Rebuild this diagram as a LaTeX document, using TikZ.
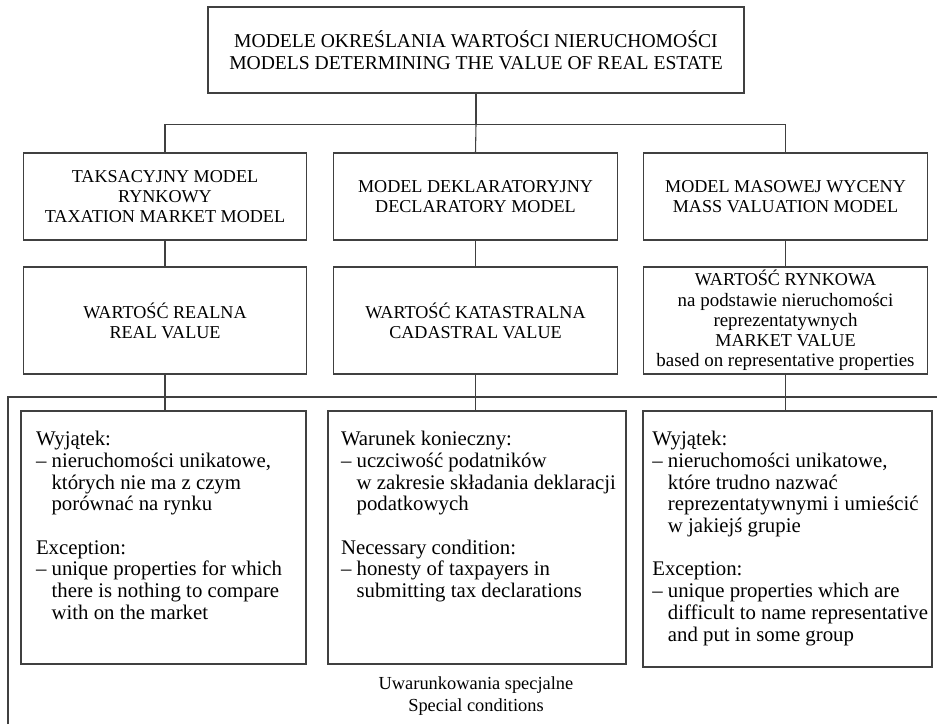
\documentclass[tikz,border=0pt]{standalone}
\usepackage{fontspec}
\setmainfont{Liberation Serif}
\usetikzlibrary{positioning}
\newcommand{\topsz}{\fontsize{14.7}{16.5}\selectfont}
\newcommand{\capsz}{\fontsize{13.6}{15.2}\selectfont}
\newcommand{\smsz}{\fontsize{14.2}{15.6}\selectfont}
\newcommand{\bodysz}{\fontsize{15.6}{16.3}\selectfont}
\newcommand{\ind}{\hphantom{\textendash\ }}
\newcommand{\condtext}[3]{\parbox[c][#2][t]{#1}{\bodysz\begin{tabular}[t]{@{}l@{}}#3\end{tabular}}}

\begin{document}
\begin{tikzpicture}[
		x=0.75pt, y=-0.75pt,
		line width=0.8pt, draw=black!75,
		modbox/.style={draw=black!75, align=center, font=\capsz, minimum width=212.5pt, minimum height=65.25pt, inner sep=2pt},
		valbox/.style={modbox, minimum height=80.25pt},
		condbox/.style={draw=black!75, inner ysep=14.5pt},
	]
	\useasboundingbox (0,0) rectangle (937,724);
	\node[modbox, font=\topsz, minimum width=402pt, minimum height=64.5pt] (m) at (476, 50) {MODELE OKREŚLANIA WARTOŚCI NIERUCHOMOŚCI\\MODELS DETERMINING THE VALUE OF REAL ESTATE};

	\node[modbox] (a) at (165, 196.5) {TAKSACYJNY MODEL\\RYNKOWY\\TAXATION MARKET MODEL};
	\node[modbox] (b) at (475.5, 196.5) {MODEL DEKLARATORYJNY\\DECLARATORY MODEL};
	\node[modbox] (c) at (785.5, 196.5) {MODEL MASOWEJ WYCENY\\MASS VALUATION MODEL};

	\node[valbox] (ra) at (165, 320.5) {WARTOŚĆ REALNA\\REAL VALUE};
	\node[valbox] (rb) at (475.5, 320.5) {WARTOŚĆ KATASTRALNA\\CADASTRAL VALUE};
	\node[valbox] (rc) at (785.5, 320.5) {WARTOŚĆ RYNKOWA\\{\smsz na podstawie nieruchomości}\\{\smsz reprezentatywnych}\\MARKET VALUE\\{\smsz based on representative properties}};

	\node[condbox, inner xsep=11.25pt] (ea) at (163.5, 537.5) {\condtext{191.25pt}{160.75pt}{%
		Wyjątek:\\
		\textendash\ nieruchomości unikatowe,\\
		\ind których nie ma z czym\\
		\ind porównać na rynku\\[16.3pt]
		Exception:\\
		\textendash\ unique properties for which\\
		\ind there is nothing to compare\\
		\ind with on the market}};
	\node[condbox, inner xsep=9.75pt] (eb) at (477, 537.5) {\condtext{204pt}{160.75pt}{%
		Warunek konieczny:\\
		\textendash\ uczciwość podatników\\
		\ind w zakresie składania deklaracji\\
		\ind podatkowych\\[16.3pt]
		Necessary condition:\\
		\textendash\ honesty of taxpayers in\\
		\ind submitting tax declarations}};
	\node[condbox, inner xsep=7pt] (ec) at (787.5, 539) {\condtext{202.75pt}{163pt}{%
		Wyjątek:\\
		\textendash\ nieruchomości unikatowe,\\
		\ind które trudno nazwać\\
		\ind reprezentatywnymi i umieścić\\
		\ind w jakiejś grupie\\[16.3pt]
		Exception:\\
		\textendash\ unique properties which are\\
		\ind difficult to name representative\\
		\ind and put in some group}};

	\node[font=\fontsize{13.8}{16.5}\selectfont, align=center] (sc) at (476, 696) {Uwarunkowania specjalne\\Special conditions};

	% frame of the special conditions
	\coordinate (fl) at (8, 724);
	\coordinate (fc) at (8, 397);
	\coordinate (fr) at (937, 397);
	\draw (fl) -- (fc) -- (fr);

	\draw (m.south) -- ++(0, 31) coordinate (bus);
	\draw (a.north) |- (bus) -| (c.north);
	\draw (bus) -- (b.north);

	\draw (a) -- (ra);
	\draw (b) -- (rb);
	\draw (c) -- (rc);
	\draw (ra.south) -- (ra.south |- ea.north);
	\draw (rb.south) -- (rb.south |- eb.north);
	\draw (rc.south) -- (rc.south |- ec.north);
\end{tikzpicture}
\end{document}
